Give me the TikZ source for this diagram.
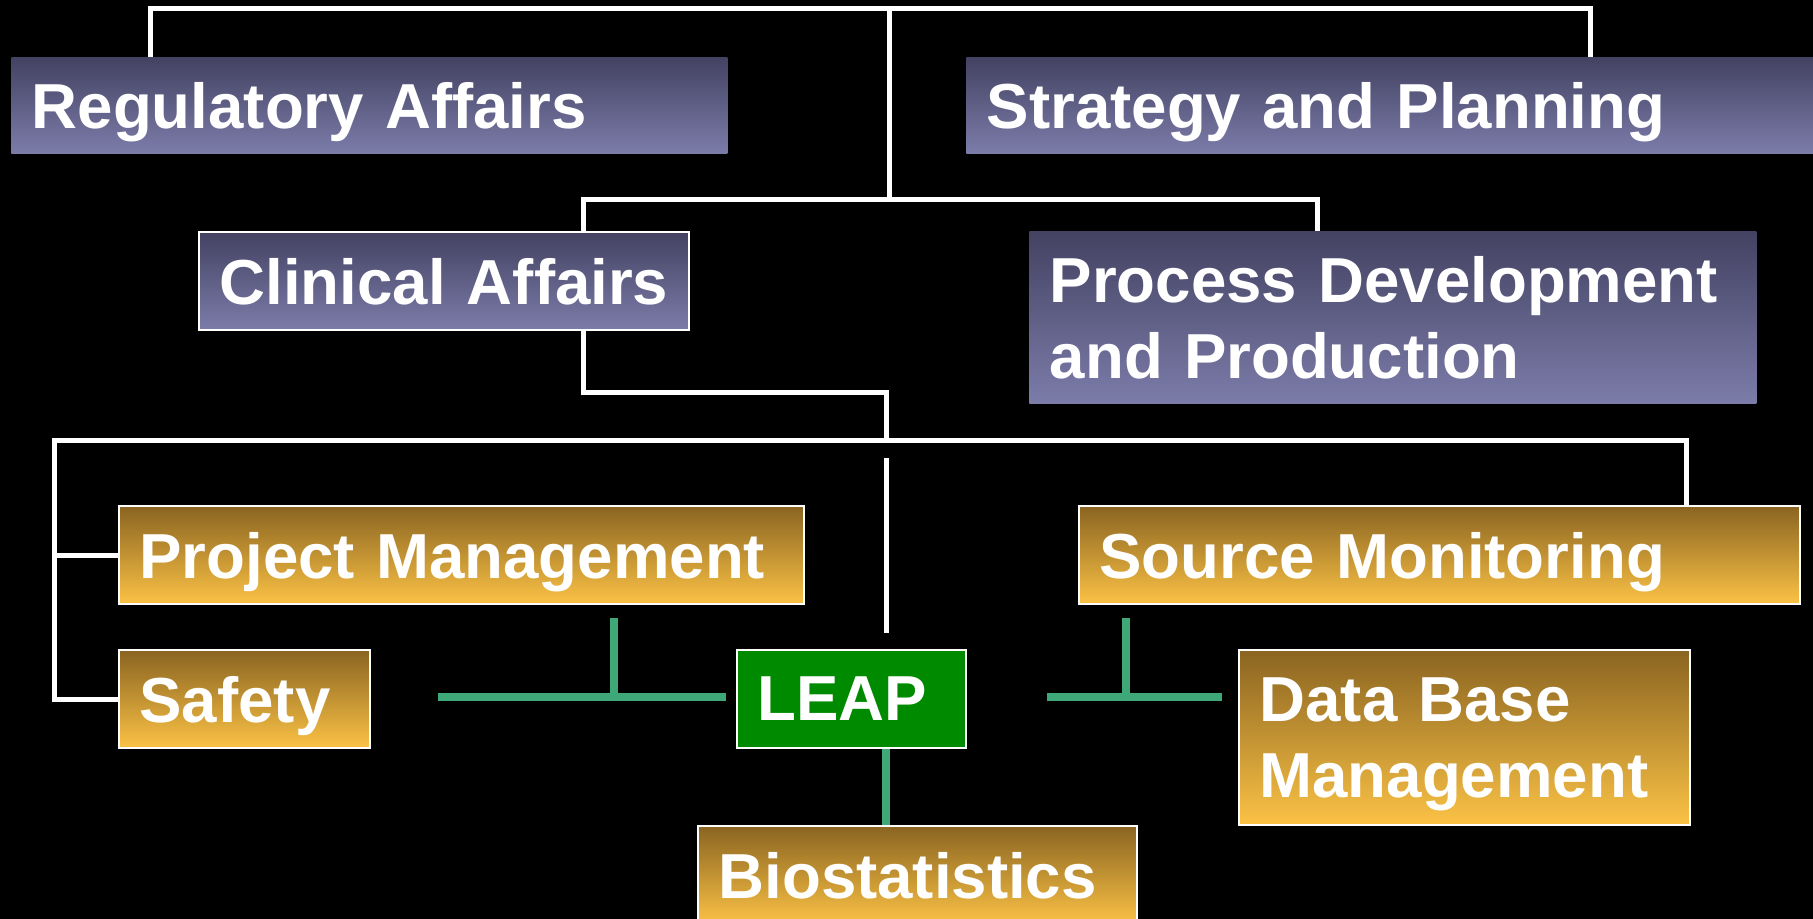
\documentclass[tikz,border=0pt]{standalone}
\usepackage{fontspec}
\setmainfont{Liberation Sans}
\usepackage{tikz}
\definecolor{unitdark}{HTML}{434262}
\definecolor{unitlight}{HTML}{7C7CAA}
\definecolor{teamdark}{HTML}{8A6421}
\definecolor{teamlight}{HTML}{FBC245}
\definecolor{leapgreen}{HTML}{008A00}
\definecolor{linkgreen}{HTML}{3EA878}

\begin{document}
\begin{tikzpicture}[x=0.75pt,y=0.75pt,yscale=-1,xscale=1,
  box/.style={anchor=north west, inner xsep=15.4pt, inner ysep=0pt, align=left,
    text=white, font=\fontsize{47.7}{57.4}\selectfont\bfseries, text depth=0pt},
  unit/.style={box, top color=unitdark, bottom color=unitlight},
  team/.style={box, top color=teamdark, bottom color=teamlight, draw=white, line width=1.5pt},
  wline/.style={white, line width=3.75pt},
  gline/.style={linkgreen, line width=5.6pt}]
\useasboundingbox (0,0) rectangle (1813,919);
\clip (0,0) rectangle (1813,919);
\fill[black] (0,0) rectangle (1813,919);

% Text Node
\node[unit, text width=506.2pt, minimum height=72pt] (reg) at (11,57) {Regulatory Affairs};
% Text Node
\node[unit, text width=621.7pt, minimum height=72pt] (strat) at (966,57) {Strategy and Planning};
% Text Node
\node[unit, draw=white, line width=1.5pt, text width=336.7pt, minimum height=73.5pt] (clin) at (198,231) {Clinical Affairs};
% Text Node
\node[unit, text width=514.45pt, minimum height=129pt, text depth=57.4pt] (proc) at (1029,231) {Process Development\\and Production};
% Text Node
\node[team, text width=482.95pt, minimum height=73.5pt] (pm) at (118,505) {Project Management};
% Text Node
\node[team, text width=509.95pt, minimum height=73.5pt] (src) at (1078,505) {Source Monitoring};
% Text Node
\node[team, text width=157.45pt, minimum height=73.5pt] (saf) at (118,649) {Safety};
% Text Node
\node[box, fill=leapgreen, draw=white, line width=1.5pt, text width=140.95pt, minimum height=73.5pt] (leap) at (736,649) {LEAP};
% Text Node
\node[team, text width=307.45pt, minimum height=131.25pt, text depth=57.4pt] (dbm) at (1238,649) {Data Base\\Management};
% Text Node
\node[team, text width=298.45pt, minimum height=73.5pt] (bio) at (697,825) {Biostatistics};

\coordinate (topL) at (150,9);
\coordinate (topM) at (889,9);
\coordinate (topR) at (1590,9);
\coordinate (midL) at (583,200);
\coordinate (midR) at (1317,200);
\coordinate (knee) at (886,393);
\coordinate (busL) at (54,441);
\coordinate (busR) at (1686,441);
\coordinate (gapTop) at (886,458);
\coordinate (gapBot) at (886,633);
\coordinate (tL) at (614,618);
\coordinate (tR) at (1126,618);
\coordinate (armL) at (438,697);
\coordinate (armR) at (1047,697);

%Straight Lines
\draw[wline] (reg.north -| topL) -- (topL) -- (topR) -- (strat.north -| topR);
\draw[wline] (topM) -- (topM |- midL);
\draw[wline] (clin.north -| midL) -- (midL) -- (midR) -- (proc.north -| midR);
\draw[wline] (clin.south -| midL) |- (knee) -- (knee |- busL);
\draw[wline] (pm.west) -- (pm.west -| busL);
\draw[wline] (saf.west) -| (busL) -- (busR) -- (src.north -| busR);
\draw[wline] (gapTop) -- (gapBot);
%Straight Lines
\draw[gline, shorten >=7.5pt] (armL) -- (leap.west |- armL);
\draw[gline] (tL) -- (tL |- armL);
\draw[gline, shorten >=12pt] (armR) -- (dbm.west |- armR);
\draw[gline] (tR) -- (tR |- armR);
\draw[gline] (leap.south -| gapBot) -- (bio.north -| gapBot);

\end{tikzpicture}
\end{document}
